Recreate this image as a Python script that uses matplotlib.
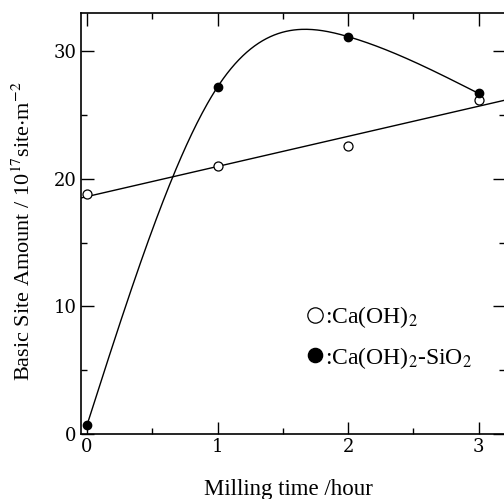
import numpy as np
import matplotlib
matplotlib.use('Agg')
import matplotlib.pyplot as plt
from matplotlib.ticker import MultipleLocator

plt.rcParams['font.family'] = 'Liberation Serif'
plt.rcParams['mathtext.fontset'] = 'stix'

# Milling time (hour)
t = [0, 1, 2, 3]
# Basic site amount / 10^17 site m^-2
caoh2 = [18.85, 21.0, 22.55, 26.2]
caoh2_sio2 = [0.7, 27.2, 31.15, 26.7]

labels = [':Ca(OH)$_2$', ':Ca(OH)$_2$-SiO$_2$']


def natural_spline(x, y, xs):
    # natural cubic spline (second derivative zero at both ends)
    x = np.asarray(x, float)
    y = np.asarray(y, float)
    n = len(x)
    h = np.diff(x)
    A = np.zeros((n, n))
    b = np.zeros(n)
    A[0, 0] = A[-1, -1] = 1
    for i in range(1, n - 1):
        A[i, i - 1] = h[i - 1]
        A[i, i] = 2 * (h[i - 1] + h[i])
        A[i, i + 1] = h[i]
        b[i] = 6 * ((y[i + 1] - y[i]) / h[i] - (y[i] - y[i - 1]) / h[i - 1])
    M = np.linalg.solve(A, b)
    k = np.clip(np.searchsorted(x, xs) - 1, 0, n - 2)
    hk = h[k]
    d1 = x[k + 1] - xs
    d0 = xs - x[k]
    return ((M[k] * d1**3 + M[k + 1] * d0**3) / (6 * hk)
            + (y[k] / hk - M[k] * hk / 6) * d1
            + (y[k + 1] / hk - M[k + 1] * hk / 6) * d0)


fig = plt.figure(figsize=(5.04, 4.99), dpi=100)
ax = fig.add_axes([81 / 504, 65 / 499, 424 / 504, 421 / 499])

xmin, xmax = -0.046, 3.203

# Ca(OH)2 : straight fit line
p = np.polyfit(t, caoh2, 1)
xl = np.array([xmin, xmax])
ax.plot(xl, np.polyval(p, xl), color='black', lw=1.0)
# Ca(OH)2-SiO2 : smooth curve
xs = np.linspace(t[0], t[-1], 300)
ax.plot(xs, natural_spline(t, caoh2_sio2, xs), color='black', lw=1.0)

h1, = ax.plot(t, caoh2, 'o', ms=6.5, mfc='white', mec='black', mew=0.9,
              label=labels[0], zorder=3)
h2, = ax.plot(t, caoh2_sio2, 'o', ms=6, mfc='black', mec='black',
              label=labels[1], zorder=3)

ax.set_xlim(xmin, xmax)
ax.set_ylim(0, 33)
ax.xaxis.set_major_locator(MultipleLocator(1))
ax.xaxis.set_minor_locator(MultipleLocator(0.5))
ax.yaxis.set_major_locator(MultipleLocator(10))
ax.yaxis.set_minor_locator(MultipleLocator(5))
ax.tick_params(which='both', direction='in', top=True, right=True,
               labelsize=13, width=1.0)
ax.tick_params(which='major', length=9, pad=3)
ax.tick_params(which='minor', length=4.5)
for lab in ax.get_xticklabels() + ax.get_yticklabels():
    lab.set_family('DejaVu Serif')
for s in ax.spines.values():
    s.set_linewidth(1.2)

ax.set_xlabel('Milling time /hour', fontsize=16.5)
ax.set_ylabel('Basic Site Amount / 10$^{17}$site$\\cdot$m$^{-2}$', fontsize=16)
ax.xaxis.set_label_coords(0.489, -0.108)
ax.yaxis.set_label_coords(-0.108, 0.482)

ax.legend(handles=[h1, h2], loc='upper left', bbox_to_anchor=(0.512, 0.33),
          frameon=False, fontsize=17, markerscale=1.7, handlelength=0.6,
          handletextpad=0.15, labelspacing=0.6, borderaxespad=0)

fig.savefig('out.png', dpi=100)
